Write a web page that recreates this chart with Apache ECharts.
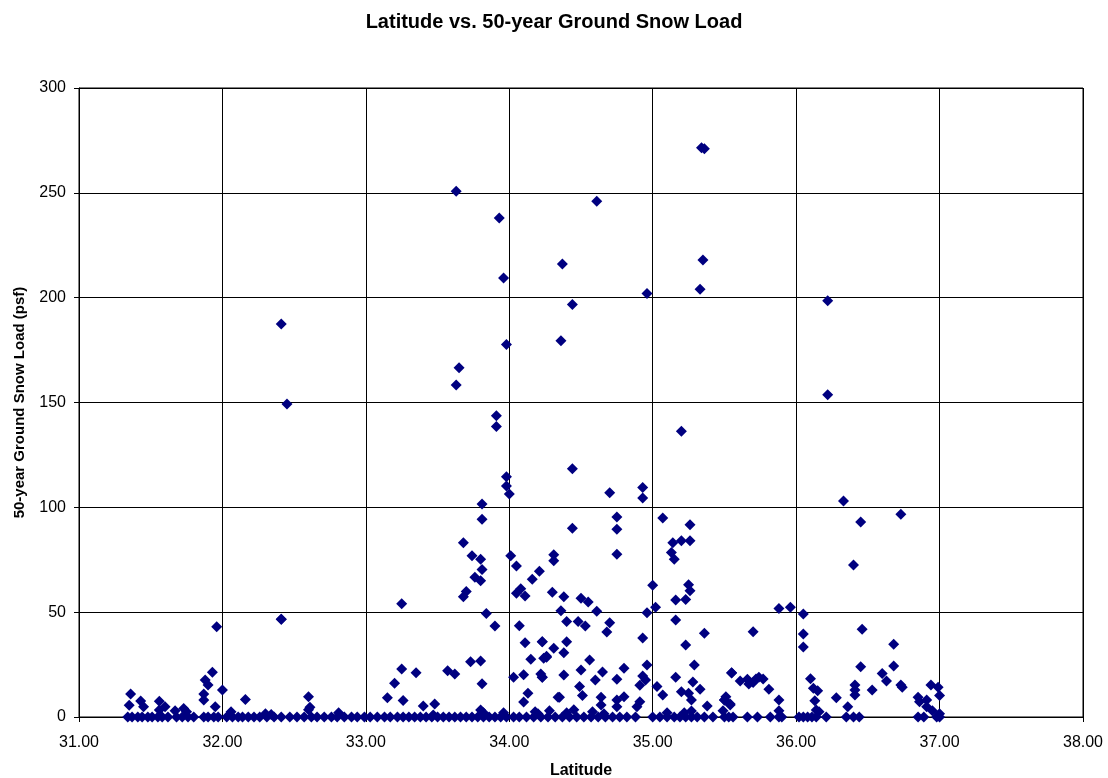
<!DOCTYPE html>
<html>
<head>
<meta charset="utf-8">
<title>Latitude vs. 50-year Ground Snow Load</title>
<script src="https://cdn.jsdelivr.net/npm/echarts@6/dist/echarts.min.js"></script>
<style>
  html, body { margin: 0; padding: 0; background: #fff; }
  #chart { width: 1108px; height: 778px; }
</style>
</head>
<body>
<div id="chart"></div>
<script>
// Station latitudes (degrees) and 50-year ground snow loads (psf)
const latitudes = [
  // high loads
  33.63, 33.93, 34.61, 34.37, 33.96, 34.96, 34.44, 34.36, 33.98,
  35.34, 35.36, 35.35, 35.33, 36.22, 36.22,
  32.41, 32.45, 32.41, 33.25,
  33.65, 33.63, 33.91, 33.91, 34.44, 33.98, 33.98, 34.00, 34.70, 34.93, 34.93, 35.20,
  33.81, 33.81, 34.75, 34.75, 34.44, 35.07, 35.26,
  33.68, 33.74, 33.80, 33.81, 33.76, 33.80, 34.75, 34.01, 34.05, 34.31, 34.31, 34.21, 34.16,
  35.14, 35.20, 35.26, 35.13, 35.15,
  33.68, 33.70, 34.05, 34.08, 34.11, 34.30, 34.38, 34.50, 34.55, 35.00, 35.25, 35.26, 35.16, 35.23,
  36.33, 36.45, 36.73, 36.40,
  // moderate loads
  34.36, 34.61, 35.02, 34.96, 34.40, 34.48, 34.53, 34.70, 34.68, 35.16, 35.36,
  34.23, 34.31, 34.40, 34.38, 34.26, 34.93, 35.23, 34.56, 34.50, 34.65, 34.38, 34.23,
  34.80, 34.75, 34.96, 34.93, 34.95, 34.91, 34.60, 34.49, 34.51, 34.35, 35.29, 35.16,
  35.28, 35.33, 35.03, 35.07, 35.20, 35.25, 35.27, 35.55, 34.64, 34.64, 34.75, 34.80,
  34.75, 34.91, 34.89, 35.38, 35.50, 35.54, 35.49, 35.27,
  33.84, 33.90, 34.07, 34.11, 34.23, 34.15, 34.24, 34.26, 33.73, 33.80, 33.25, 33.35,
  33.57, 33.62, 33.20, 33.81, 34.03, 34.10, 34.22, 34.23, 33.15, 33.26, 33.40, 33.48,
  34.13, 34.10, 34.34, 33.80,
  31.96, 32.41, 31.93, 31.88, 31.90, 31.87, 31.87, 32.00, 32.16, 32.60, 31.36, 31.35,
  31.43, 31.45, 31.56, 31.60, 31.56, 31.73, 31.95, 32.61, 32.06, 32.81,
  35.88, 35.96, 36.05, 36.05, 36.05, 35.70, 36.46, 36.68, 36.45, 36.68, 36.60, 36.63,
  36.73, 36.74, 35.55, 35.61, 35.66, 35.67, 35.72, 35.74, 35.77, 35.70, 35.81, 35.88,
  35.88, 36.10, 36.12, 36.15, 36.13, 36.14, 36.28, 36.36, 36.41, 36.41, 36.41, 36.53,
  35.51, 35.50, 35.54, 36.85, 36.86, 36.91, 36.91, 36.94, 36.99, 37.00,
  // light loads
  31.67, 31.75, 32.30, 32.34, 32.60, 33.47, 33.82, 34.18, 34.28, 34.40, 34.45, 34.58,
  34.66, 35.10, 36.16, 36.95, 37.00, 35.22, 34.20, 33.96,
  // stations at zero
  31.34, 31.37, 31.41, 31.44, 31.48, 31.51, 31.55, 31.58, 31.62, 31.68, 31.72, 31.76,
  31.80, 31.87, 31.90, 31.94, 31.97, 32.03, 32.07, 32.11, 32.14, 32.18, 32.22, 32.26,
  32.31, 32.36, 32.41, 32.47, 32.52, 32.57, 32.62, 32.66, 32.71, 32.76, 32.80, 32.85,
  32.90, 32.94, 32.99, 33.03, 33.08, 33.13, 33.17, 33.22, 33.26, 33.30, 33.34, 33.38,
  33.42, 33.46, 33.50, 33.54, 33.58, 33.62, 33.66, 33.70, 33.74, 33.78, 33.82, 33.86,
  33.90, 33.94, 33.98, 34.03, 34.07, 34.12, 34.17, 34.22, 34.27, 34.32, 34.37, 34.42,
  34.47, 34.52, 34.57, 34.62, 34.67, 34.72, 34.77, 34.82, 34.88, 35.00, 35.05, 35.10,
  35.15, 35.19, 35.23, 35.27, 35.31, 35.36, 35.42, 35.50, 35.53, 35.56, 35.66, 35.73,
  35.82, 35.88, 35.90, 36.02, 36.05, 36.08, 36.11, 36.14, 36.21, 36.35, 36.40, 36.44,
  36.85, 36.89, 36.98, 37.00
];

const snowLoads = [
  // high loads
  250.8, 238.0, 246.0, 216.0, 209.4, 202.0, 196.8, 179.5, 177.7,
  271.5, 271.0, 218.0, 204.0, 198.5, 153.7,
  187.4, 149.3, 46.6, 54.0,
  166.6, 158.3, 143.7, 138.6, 118.4, 114.6, 110.2, 106.3, 107.0, 109.5, 104.4, 136.3,
  101.6, 94.3, 95.4, 89.6, 90.0, 94.9, 91.7,
  83.1, 76.9, 75.2, 70.4, 66.6, 65.0, 77.6, 76.9, 72.0, 77.4, 74.5, 69.5, 65.7,
  83.1, 84.1, 84.1, 78.5, 75.2,
  57.4, 59.8, 59.0, 61.2, 57.7, 59.5, 57.4, 56.6, 54.8, 62.8, 63.1, 60.2, 55.8, 56.1,
  103.0, 93.0, 96.7, 72.5,
  // moderate loads
  50.7, 50.4, 52.3, 49.7, 45.6, 45.6, 43.4, 45.0, 40.5, 46.3, 39.9,
  35.9, 32.8, 35.9, 30.7, 28.5, 37.7, 34.3, 27.2, 22.4, 21.5, 20.0, 18.9,
  23.2, 18.0, 24.8, 19.6, 17.6, 15.1, 17.6, 14.5, 10.2, 9.4, 24.8, 18.9,
  16.7, 13.2, 14.5, 10.5, 12.1, 11.3, 8.1, 21.1, 9.4, 5.7, 8.1, 9.7,
  4.9, 7.3, 4.9, 5.2, 8.1, 6.2, 3.0, 2.9,
  49.4, 43.4, 43.5, 35.4, 35.9, 27.5, 28.0, 29.0, 26.4, 26.7, 22.9, 21.1,
  22.1, 20.5, 16.1, 15.9, 18.9, 20.2, 20.5, 18.9, 9.2, 7.9, 5.2, 6.2,
  11.3, 7.2, 9.4, 3.3,
  43.1, 46.6, 21.3, 17.6, 15.3, 11.0, 8.1, 12.9, 8.4, 9.7, 11.0, 5.6,
  7.6, 4.9, 7.5, 4.9, 3.3, 4.1, 4.9, 4.6, 2.5, 2.0,
  51.8, 52.3, 49.1, 39.6, 33.4, 40.7, 41.8, 34.7, 24.0, 24.3, 20.8, 17.2,
  15.3, 14.2, 21.0, 17.2, 18.0, 15.7, 18.1, 18.9, 18.1, 16.4, 13.2, 8.1,
  3.0, 18.3, 13.7, 12.5, 7.8, 3.3, 9.2, 4.9, 15.3, 12.9, 10.5, 12.9,
  9.7, 8.1, 5.7, 9.4, 7.3, 8.1, 4.9, 15.3, 14.2, 10.2,
  // light loads
  3.0, 2.5, 1.5, 1.2, 3.5, 1.0, 2.0, 2.5, 3.0, 2.0, 3.5, 2.5,
  1.5, 2.0, 2.5, 3.0, 1.5, 2.0, 1.5, 2.0,
  // stations at zero
  0, 0, 0, 0, 0, 0, 0, 0, 0, 0, 0, 0,
  0, 0, 0, 0, 0, 0, 0, 0, 0, 0, 0, 0,
  0, 0, 0, 0, 0, 0, 0, 0, 0, 0, 0, 0,
  0, 0, 0, 0, 0, 0, 0, 0, 0, 0, 0, 0,
  0, 0, 0, 0, 0, 0, 0, 0, 0, 0, 0, 0,
  0, 0, 0, 0, 0, 0, 0, 0, 0, 0, 0, 0,
  0, 0, 0, 0, 0, 0, 0, 0, 0, 0, 0, 0,
  0, 0, 0, 0, 0, 0, 0, 0, 0, 0, 0, 0,
  0, 0, 0, 0, 0, 0, 0, 0, 0, 0, 0, 0,
  0, 0, 0, 0
];

const points = latitudes.map((lat, i) => [lat, snowLoads[i]]);

const FONT = 'Liberation Sans, Arial, sans-serif';
const chart = echarts.init(document.getElementById('chart'), null, { renderer: 'canvas' });

chart.setOption({
  backgroundColor: '#ffffff',
  animation: false,
  title: {
    text: 'Latitude vs. 50-year Ground Snow Load',
    left: 'center',
    top: 7,
    textStyle: { fontFamily: FONT, fontSize: 20, fontWeight: 'bold', color: '#000' }
  },
  grid: {
    left: 79, right: 25, top: 88, bottom: 61,
    outerBoundsMode: 'none',
    show: true, borderColor: '#000', borderWidth: 1, backgroundColor: 'transparent'
  },
  xAxis: {
    type: 'value',
    min: 31, max: 38, interval: 1,
    name: 'Latitude',
    nameLocation: 'middle',
    nameGap: 46,
    nameTextStyle: { fontFamily: FONT, fontSize: 16, fontWeight: 'bold', color: '#000' },
    axisLine: { show: true, onZero: false, lineStyle: { color: '#000', width: 1 } },
    axisTick: { show: true, length: 5, inside: false, lineStyle: { color: '#000' } },
    axisLabel: { fontFamily: FONT, fontSize: 16, color: '#000', margin: 18, formatter: v => v.toFixed(2) },
    splitLine: { show: true, lineStyle: { color: '#000', width: 1 } }
  },
  yAxis: {
    type: 'value',
    min: 0, max: 300, interval: 50,
    name: '50-year Ground Snow Load (psf)',
    nameLocation: 'middle',
    nameGap: 52,
    nameRotate: 90,
    nameTextStyle: { fontFamily: FONT, fontSize: 15, fontWeight: 'bold', color: '#000' },
    axisLine: { show: true, lineStyle: { color: '#000', width: 1 } },
    axisTick: { show: true, length: 5, inside: false, lineStyle: { color: '#000' } },
    axisLabel: { fontFamily: FONT, fontSize: 16, color: '#000', margin: 13 },
    splitLine: { show: true, lineStyle: { color: '#000', width: 1 } }
  },
  series: [{
    type: 'scatter',
    data: points,
    symbol: 'diamond',
    symbolSize: 11,
    itemStyle: { color: '#000080', opacity: 1 },
    clip: false
  }]
});
</script>
</body>
</html>
